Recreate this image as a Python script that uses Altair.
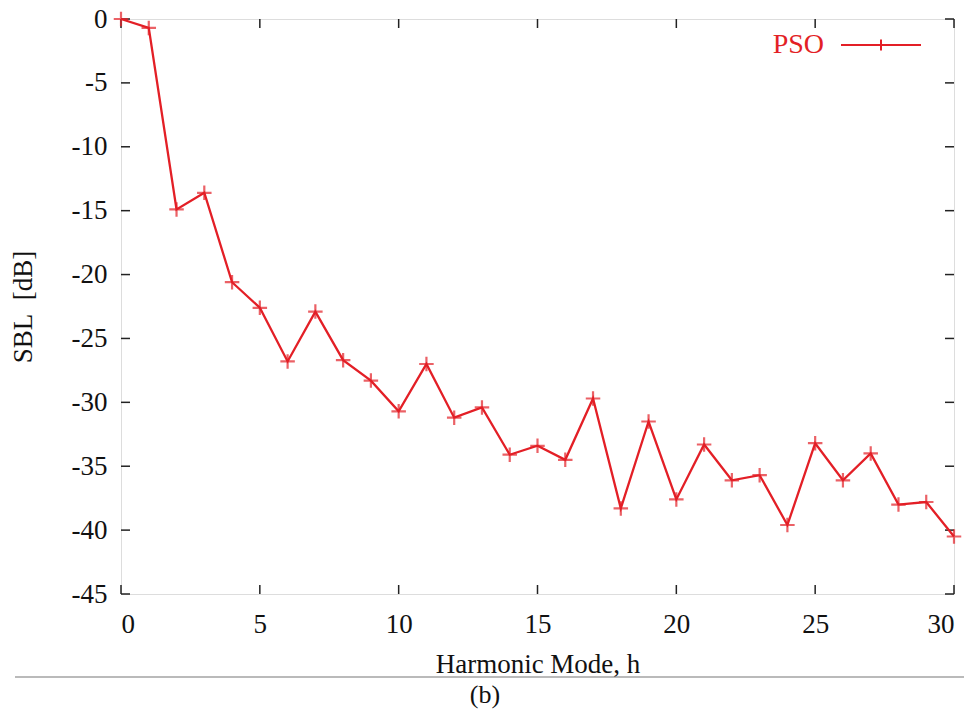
import altair as alt
import pandas as pd

harmonic = list(range(0, 31))
sbl = [0.0, -0.7, -14.9, -13.6, -20.6, -22.6, -26.8, -22.9, -26.7, -28.3,
       -30.7, -27.0, -31.2, -30.4, -34.1, -33.4, -34.5, -29.7, -38.3, -31.5,
       -37.6, -33.3, -36.1, -35.7, -39.6, -33.2, -36.1, -34.0, -38.0, -37.8,
       -40.5]
series_name = "PSO"
x_ticks = [0, 5, 10, 15, 20, 25, 30]
y_ticks = [0, -5, -10, -15, -20, -25, -30, -35, -40, -45]

RED = "#e31f26"
FONT = "Liberation Serif"
W, H = 833, 575
TICK = 9

df = pd.DataFrame({"h": harmonic, "sbl": sbl, "series": [series_name] * len(harmonic)})
xt = pd.DataFrame({"x": x_ticks})
yt = pd.DataFrame({"y": y_ticks})

xscale = alt.Scale(domain=[0, 30], nice=False, zero=False)
yscale = alt.Scale(domain=[-45, 0], nice=False, zero=False)

cross = "M-1,0L1,0M0,-1L0,1"
legend_sym = "M-1,0L1,0M0,-0.14L0,0.14"

base = alt.Chart(df)

line = base.mark_line(strokeWidth=2.3).encode(
    x=alt.X("h:Q", scale=xscale,
            axis=alt.Axis(values=x_ticks, title="Harmonic Mode, h", ticks=False, domain=False,
                          grid=False, labelFont=FONT, labelFontSize=27, labelColor="#111",
                          labelPadding=17, labelExpr="datum.value + ''",
                          titleFont=FONT, titleFontSize=27,
                          titleFontWeight="normal", titleColor="#111", titlePadding=14)),
    y=alt.Y("sbl:Q", scale=yscale,
            axis=alt.Axis(values=y_ticks, title="SBL\u00a0\u00a0[dB]", ticks=False, domain=False,
                          grid=False, labelFont=FONT, labelFontSize=27, labelColor="#111",
                          labelPadding=14, labelExpr="datum.value + ''",
                          titleFont=FONT, titleFontSize=27,
                          titleFontWeight="normal", titleColor="#111", titlePadding=34)),
    color=alt.Color("series:N", scale=alt.Scale(range=[RED]),
                    legend=alt.Legend(title=None, orient="none", legendX=719, legendY=-15,
                                      symbolType=legend_sym, symbolSize=6400,
                                      symbolStrokeWidth=2, symbolStrokeColor=RED,
                                      labelFont=FONT, labelFontSize=28, labelColor=RED,
                                      labelAlign="right", labelOffset={"expr": "-98"}, padding=0,
                                      labelLimit=200)),
)

points = base.mark_point(shape=cross, size=210, filled=False, strokeWidth=2.2).encode(
    x=alt.X("h:Q", scale=xscale),
    y=alt.Y("sbl:Q", scale=yscale),
    color=alt.Color("series:N", scale=alt.Scale(range=[RED]), legend=None),
)

tick_color = "#222"
bottom_ticks = alt.Chart(xt).mark_rule(color=tick_color, strokeWidth=1.5).encode(
    x=alt.X("x:Q", scale=xscale), y=alt.value(H), y2=alt.value(H - TICK))
top_ticks = alt.Chart(xt).mark_rule(color=tick_color, strokeWidth=1.5).encode(
    x=alt.X("x:Q", scale=xscale), y=alt.value(0), y2=alt.value(TICK))
left_ticks = alt.Chart(yt).mark_rule(color=tick_color, strokeWidth=1.5).encode(
    y=alt.Y("y:Q", scale=yscale), x=alt.value(0), x2=alt.value(TICK))
right_ticks = alt.Chart(yt).mark_rule(color=tick_color, strokeWidth=1.5).encode(
    y=alt.Y("y:Q", scale=yscale), x=alt.value(W), x2=alt.value(W - TICK))

sep = alt.Chart(pd.DataFrame({"a": [0]})).mark_rule(color="#777", strokeWidth=1.2).encode(
    x=alt.value(-106), x2=alt.value(843), y=alt.value(658))
caption = alt.Chart(pd.DataFrame({"t": ["(b)"]})).mark_text(
    font=FONT, fontSize=26, color="#111", baseline="middle", align="center").encode(
    text="t:N", x=alt.value(364), y=alt.value(676))

chart = alt.layer(bottom_ticks, top_ticks, left_ticks, right_ticks, line, points, sep, caption).properties(
    width=W, height=H,
    autosize=alt.AutoSizeParams(type="none"),
    padding={"left": 113, "top": 11, "right": 10, "bottom": 116},
).configure_view(stroke="#222", strokeWidth=1.6).configure(background="white")

chart.save("out.html", embed_options={"renderer": "svg", "actions": False})
